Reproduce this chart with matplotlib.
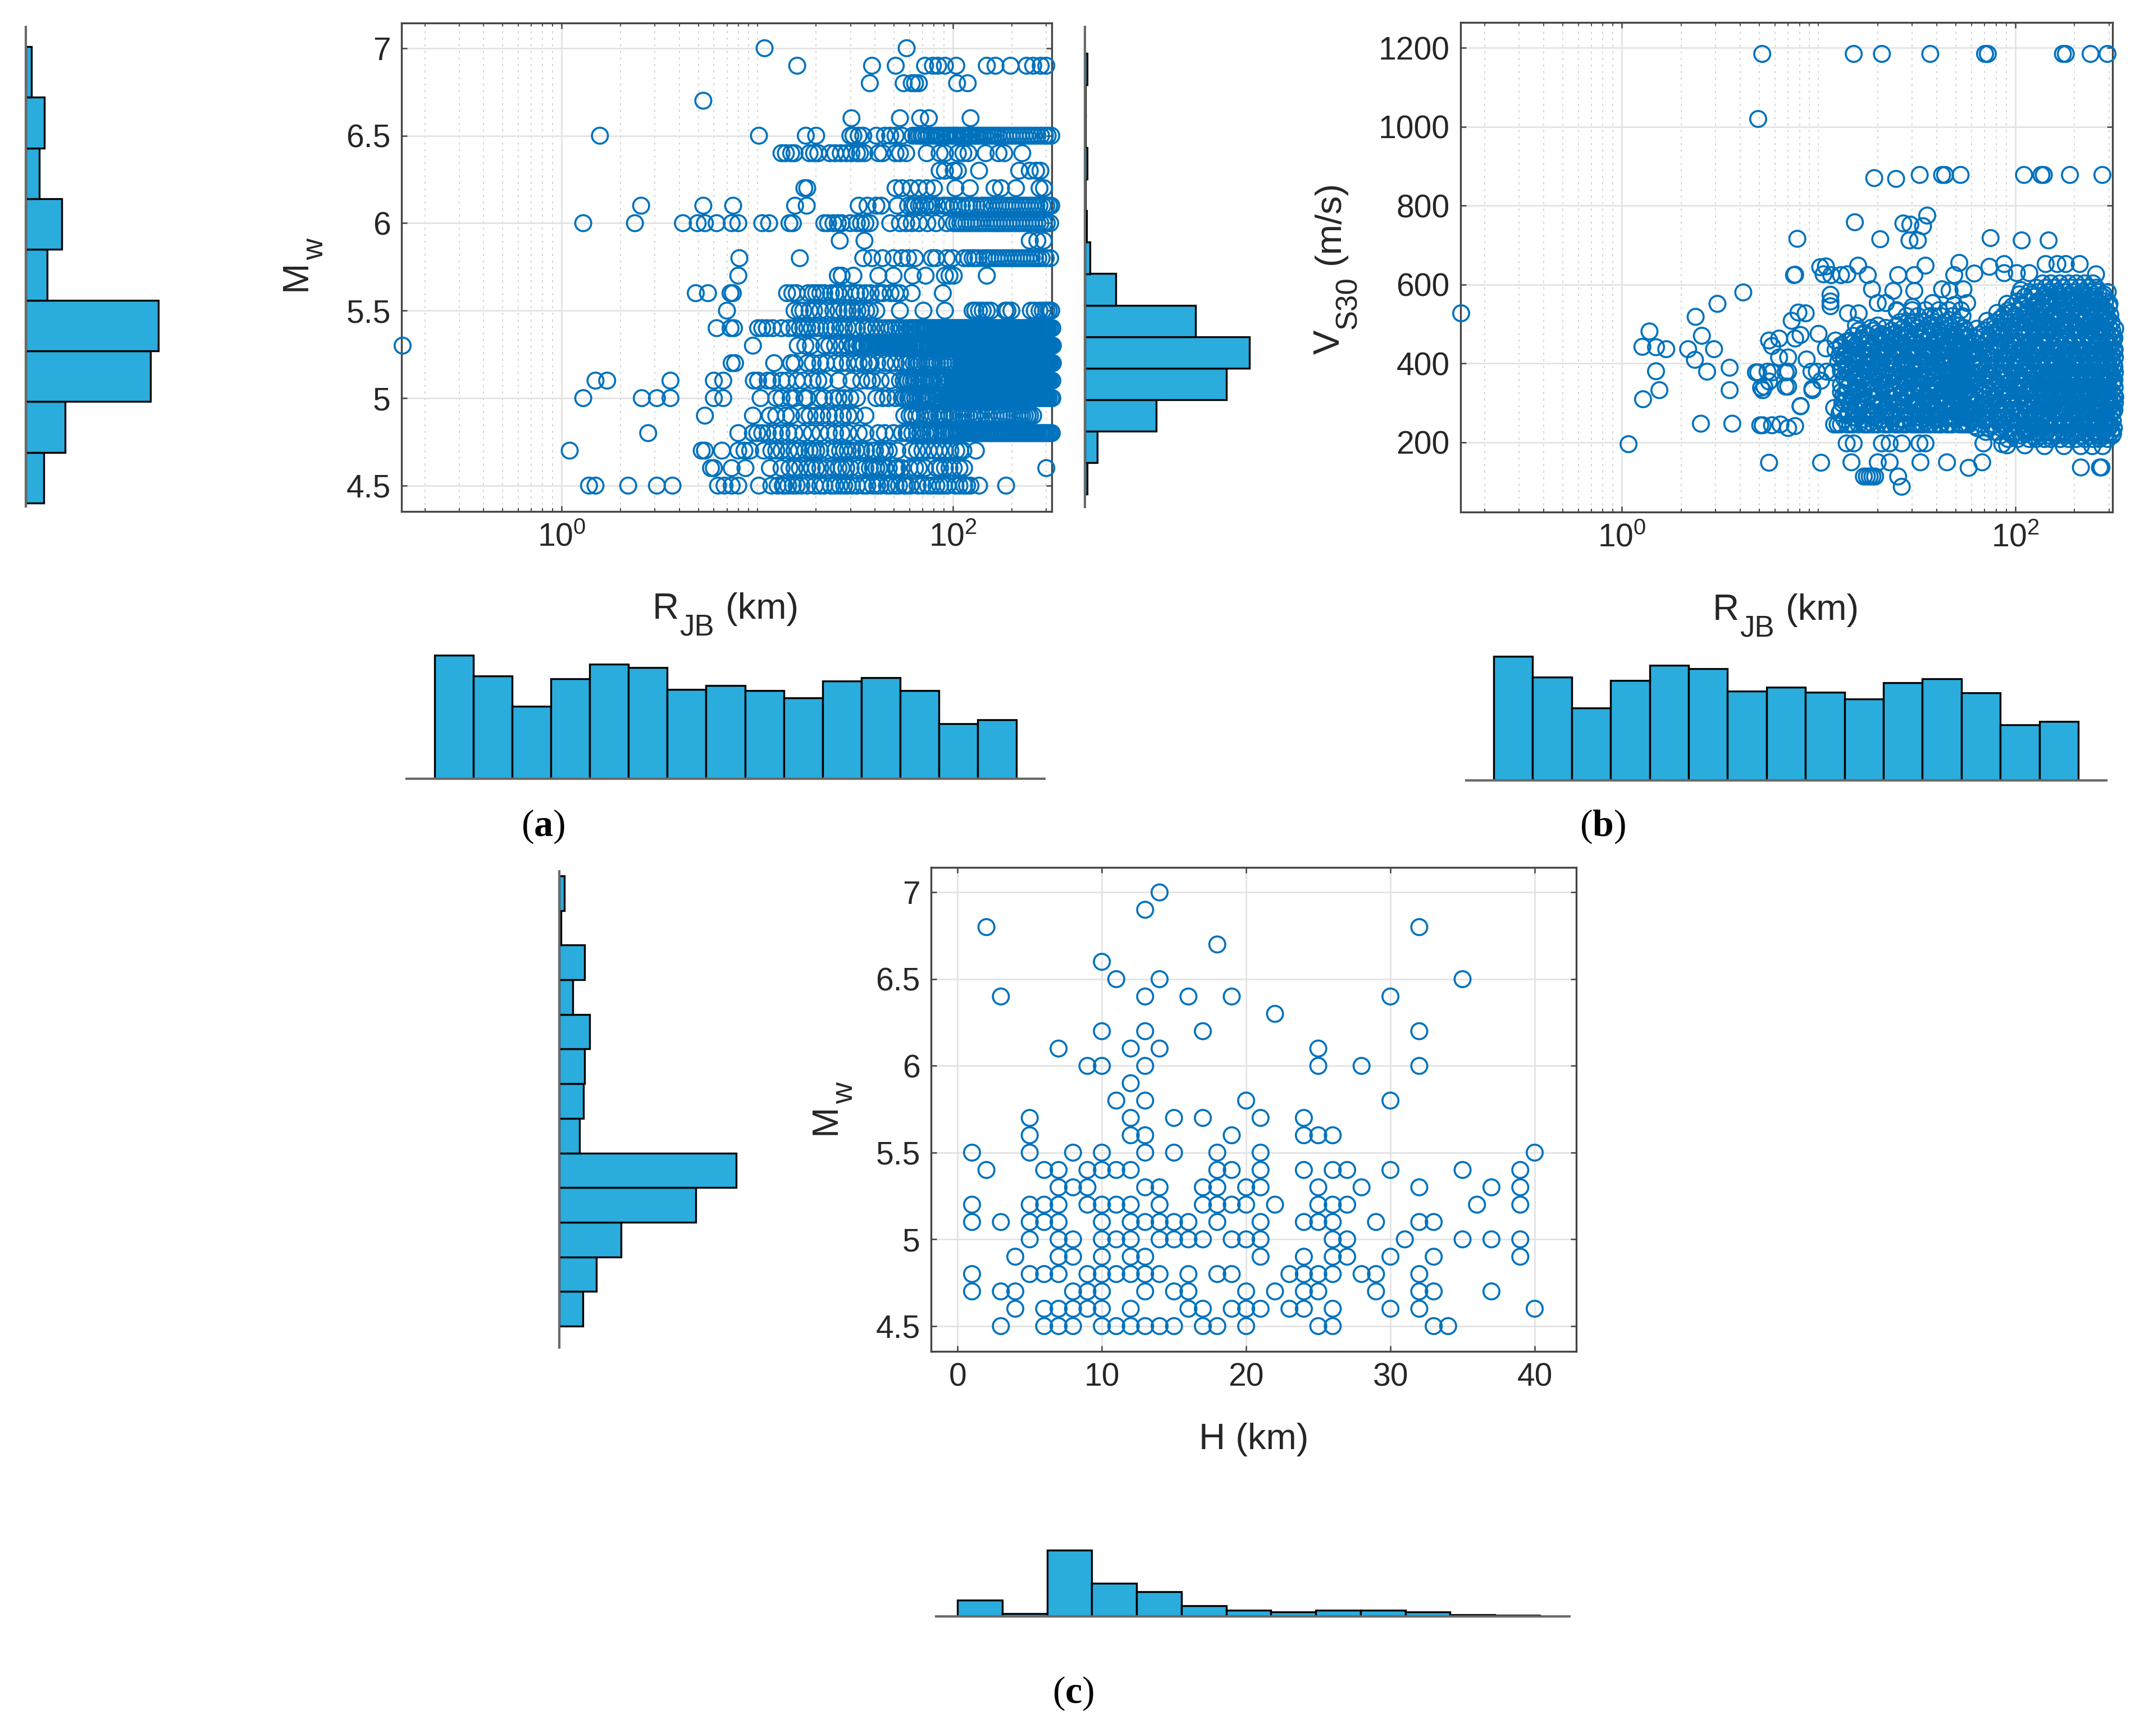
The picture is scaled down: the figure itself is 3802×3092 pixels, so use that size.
#!/usr/bin/env python
"""Scatter plots of the ground motion dataset with their marginal histograms."""
import numpy as np
import matplotlib
matplotlib.use("Agg")
import matplotlib.pyplot as plt
from matplotlib import ticker

W, H = 3802, 3092
BLUE = "#0072BD"
BAR = "#2AACDD"
DARK = "#262626"
SPINE = "#444444"

plt.rcParams["font.family"] = ["Liberation Sans", "DejaVu Sans"]
plt.rcParams["mathtext.fontset"] = "custom"
plt.rcParams["mathtext.rm"] = "Liberation Sans"
plt.rcParams["mathtext.it"] = "Liberation Sans"
plt.rcParams["mathtext.bf"] = "Liberation Serif:bold"

# Panel (a): RJB (km) values read at each Mw level
R_M45 = [1.38, 1.49, 2.19, 3.07, 3.69, 6.3, 6.8, 7.4, 8, 10.2, 11.8, 12.7, 13.5, 13.7, 14.4, 15.2, 15.9, 16.8, 18, 19.7,
         21, 22, 23.8, 25, 26.4, 27.8, 32.3, 34.9, 39, 42.7, 46, 50.9, 56.4, 60.7, 74.4, 82.3, 103, 114, 123, 136, 187,
         29, 30.5, 36.5, 41, 48, 53, 58, 66, 70, 78, 86, 90, 94, 108, 118]
R_M46 = [5.8, 6, 7.4, 8.7, 11.6, 13.3, 14.6, 15.5, 18, 20, 21, 24.5, 27, 28.5, 35.7, 37.6, 40.6, 44.9, 50.9, 54.9, 67,
         82.3, 91, 101, 114, 300,
         16.5, 19, 22.5, 26, 30, 33, 39, 42, 47, 52, 60, 64, 72, 86, 96, 108]
R_M47 = [1.1, 5.2, 5.4, 6.6, 8, 8.6, 9.2, 10.8, 11.8, 13.3, 15.5, 16.3, 17.6, 19.2, 21, 25, 27.8, 30.6, 34, 38.6, 42.7,
         44.9, 65.5, 69.8, 80.3, 91, 109, 113, 131,
         12.5, 14.5, 18.5, 20, 23, 26.5, 29, 32, 36, 40, 47, 52, 61, 75, 85, 97, 104]
R_M48 = [2.77, 8, 9.5, 10, 10.6, 11.3, 12.3, 13.3, 14.4, 15.5, 17.2, 19, 21, 23.2, 25, 27, 29.2, 33, 35.7, 41.6, 44.9,
         49.7, 54.9, 59, 65.5, 72.5, 80.3, 87.7, 101, 106, 111, 116, 121, 127, 133, 139, 146, 153, 160, 168, 176, 184,
         193, 202, 212, 222, 233, 244, 255, 267, 280, 293, 306, 320,
         109, 114, 119, 124, 130, 136, 142, 149, 156, 164, 172, 180, 188, 197, 207, 217, 228, 239, 250, 261, 273, 286,
         299, 313,
         58, 62, 68, 70, 75, 77, 83, 90, 92, 95, 98, 104]
R_M49 = [5.4, 9.5, 11.6, 12.5, 14, 14.9, 17.4, 18.5, 20, 21.5, 23.2, 25, 27.4, 29.2, 31.5, 35.7, 56.4, 68, 76.3, 82.3,
         88.8, 95.8, 106, 117, 126, 147, 159, 185, 199, 226, 241, 257,
         60, 62, 65, 72, 74, 79, 85, 91, 99, 102, 110, 113, 121, 130, 135, 140, 152, 165, 172, 178, 192, 206, 213, 220,
         233, 248]
R_M50 = [1.29, 2.57, 3.07, 3.6, 6, 6.7, 10.4, 12.5, 13.3, 14.8, 15.5, 17.4, 18, 20.7, 22, 24.5, 26, 27.8, 29.9, 32.3,
         40.6, 43.7, 46.6, 50.9, 54.9, 59, 64, 69, 74.4, 82.3, 91, 94, 98, 101, 105, 109, 113, 118, 122, 127, 132, 137,
         142, 147, 153, 159, 165, 171, 178, 185, 192, 199, 207, 215, 223, 232, 241, 250, 260, 270, 280, 291, 302, 318,
         93, 96, 100, 103, 107, 111, 115, 120, 125, 130, 135, 140, 145, 150, 156, 162, 168, 175, 182, 189, 196, 204,
         212, 220, 228, 237, 246, 255, 265, 275, 286, 297, 309, 322,
         55, 57, 60, 62, 66, 68, 71, 73, 76, 79, 84, 87]
R_M51 = [1.49, 1.71, 3.6, 6, 6.7, 9.6, 10.1, 11.3, 11.9, 13.3, 14.2, 15.9, 17.2, 19.2, 20.5, 22, 26, 30.3, 34, 36.7,
         38.6, 42.7, 47.8, 53.6, 59, 69, 78, 85.5, 96, 99, 103, 107, 111, 115, 120, 124, 129, 134, 139, 145, 150, 156,
         162, 168, 175, 181, 188, 195, 203, 211, 219, 227, 236, 245, 254, 264, 274, 285, 296, 307, 322,
         101, 105, 109, 113, 117, 122, 127, 132, 137, 142, 148, 154, 160, 166, 172, 178, 185, 192, 199, 207, 215, 223,
         232, 241, 250, 259, 269, 279, 290, 302, 314,
         56, 58, 61, 63, 65, 67, 71, 72, 75, 77, 80, 83, 88, 91]
R_M52 = [7.4, 7.7, 12.2, 14.9, 15.5, 18, 19.2, 21, 25, 31.5, 35, 38, 45, 55, 67, 76, 93, 107, 110, 114, 118, 122, 127,
         132, 137, 142, 148, 153, 159, 165, 172, 178, 185, 192, 199, 207, 215, 223, 232, 241, 250, 260, 270, 280, 291,
         302, 314, 324,
         112, 116, 120, 125, 130, 135, 140, 145, 151, 156, 162, 169, 175, 182, 189, 196, 203, 211, 219, 228, 236, 245,
         255, 265, 275, 286, 297, 308, 320,
         58, 60, 63, 65, 69, 72, 74, 78, 80, 83, 86, 89, 96, 99, 103,
         22.5, 27, 29, 33, 37, 41, 48, 51]
R_M53 = [0.154, 9.5, 16.1, 17.6, 18.8, 22, 23.3, 25, 27, 28.8, 30.5, 32, 33.5, 35, 36.5, 38, 40, 42, 44, 46, 48, 50, 52,
         54, 56, 58, 60, 63, 65, 68, 71, 74, 77, 80, 83, 86, 89, 93, 96, 100, 104, 108, 112, 116, 121, 125, 130, 135,
         141, 146, 152, 158, 164, 171, 177, 184, 191, 198, 206, 214, 222, 231, 240, 249, 259, 269, 279, 290, 301, 313,
         324,
         31, 34, 37, 39, 41, 43, 45, 47, 49, 51, 53, 55, 57, 59, 62, 64, 67, 69, 72, 75, 78, 82, 85, 88, 91, 95, 98,
         102, 106, 110, 114, 118, 123, 128, 133, 138, 144, 149, 155, 161, 168, 174, 181, 188, 195, 202, 210, 218, 227,
         235, 244, 254, 264, 274, 285, 296, 307, 319]
R_M54 = [6.2, 7.3, 7.6, 10.1, 10.6, 11.2, 12, 13.3, 15.5, 17.2, 19, 21, 23.8, 27.8, 32.3, 34.9, 42.7, 47.2, 51, 54.9,
         57.7, 60, 62.3, 65, 67, 70, 72.5, 75, 78, 81, 84.4, 88, 91, 94, 98, 102, 106, 110, 114, 118, 123, 128, 133,
         138, 144, 149, 155, 161, 167, 173, 180, 187, 194, 202, 210, 218, 226, 235, 244, 253, 263, 273, 284, 295, 306,
         322,
         61, 64, 68, 71, 74, 77, 80, 83, 86, 90, 93, 96, 100, 104, 108, 112, 116, 121, 126, 131, 136, 141, 147, 152,
         158, 164, 170, 177, 184, 191, 198, 206, 214, 222, 231, 240, 249, 258, 268, 279, 290, 301, 314,
         14.5, 16.5, 18, 20, 22.5, 25, 26.5, 29, 31, 36.5, 38.5, 40.5, 45, 49, 53]
R_M55 = [7, 15.5, 17.2, 19.5, 21, 24.5, 27.8, 30.6, 34, 37.6, 40.6, 53.6, 70.7, 91, 126, 136, 149, 185, 199, 250, 277,
         300, 318,
         16.5, 18.5, 22.5, 26, 29, 32.5, 36, 130, 142, 156, 190, 262, 288, 309]
R_M56 = [4.85, 5.6, 7.3, 7.5, 14.2, 15.1, 15.9, 19.2, 20, 22, 23.8, 27.8, 33.5, 35.7, 41.6, 50.9, 53.6, 61.6, 88.8,
         18.2, 21, 25, 26, 30, 32, 38, 44, 48]
R_M57 = [8, 25.8, 27, 31, 41.6, 49.7, 62.3, 72.5, 91, 96, 101, 149]
R_M58 = [8.1, 16.5, 34.8, 38.6, 43.7, 49.7, 54.9, 59, 64, 78, 82, 93, 99.5, 114, 126, 144, 155, 167, 180, 194, 210,
         226, 244, 263, 284, 314,
         120, 130, 135, 150, 161, 173, 187, 202, 218, 235, 253, 273, 298]
R_M59 = [26.4, 35.3, 247, 270, 291]
R_M60 = [1.29, 2.37, 4.17, 4.96, 5.4, 6.2, 7.4, 8, 10.6, 11.5, 14.6, 15.2, 22, 23, 24.5, 25.8, 27, 29.9, 32.3, 33.9,
         35.7, 37.6, 47.8, 53.6, 57.7, 61.6, 67, 74, 82, 93, 101, 109, 117, 126, 136, 147, 159, 171, 185, 199, 215, 232,
         250, 270, 291, 314,
         105, 113, 122, 131, 141, 153, 165, 178, 192, 207, 223, 241, 260, 280, 302]
R_M61 = [2.55, 5.3, 7.53, 15.6, 17.9, 33, 36.6, 40.6, 43, 52, 59, 64, 69, 78, 89, 96, 106, 117, 126, 140, 151, 163,
         176, 190, 204, 221, 238, 257, 277, 300, 318,
         62, 67, 72, 75, 83, 92, 101, 111, 121, 132, 145, 157, 170, 183, 197, 212, 229, 247, 267, 288, 310]
R_M62 = [17.4, 18, 50.9, 54.9, 60.7, 67, 73.5, 80, 103, 122, 163, 176, 210, 277, 292]
R_M63 = [85.5, 91, 101, 106, 136, 218, 247, 266, 280]
R_M64 = [13.3, 14, 14.9, 15.5, 18.5, 19.5, 20.5, 23.5, 25, 26.7, 28.5, 30.3, 32.3, 33.5, 35.3, 41.6, 43.7, 50.9, 53.6,
         57.7, 73.5, 85.5, 91, 106, 113, 120, 147, 171, 183, 226]
R_M65 = [1.57, 10.2, 17.7, 20, 29.9, 31, 33, 34.8, 40.6, 44.9, 47.8, 50.9, 54.9, 62.3, 67, 70.7, 75.3, 81.3, 85.5, 91,
         95.8, 102, 106, 113, 120, 126, 133, 142, 151, 161, 171, 185, 199, 215, 232, 250, 270, 295, 318,
         65, 69, 73, 78, 83, 88, 93, 99, 104, 110, 116, 123, 130, 137, 146, 156, 166, 178, 192, 207, 223, 241, 260, 282,
         305]
R_M66 = [30.3, 53.6, 68, 75.3, 123]
R_M67 = [5.3]
R_M68 = [37.6, 56, 61.6, 64, 67, 105, 119]
R_M69 = [16, 38.6, 51, 72, 79, 84, 91, 104, 149, 165, 197, 238, 257, 281, 300]
R_M70 = [10.9, 58]
MW_LEVELS = [4.5, 4.6, 4.7, 4.8, 4.9, 5.0, 5.1, 5.2, 5.3, 5.4, 5.5, 5.6, 5.7, 5.8, 5.9, 6.0, 6.1, 6.2, 6.3, 6.4, 6.5,
             6.6, 6.7, 6.8, 6.9, 7.0]
R_AT_MW = [R_M45, R_M46, R_M47, R_M48, R_M49, R_M50, R_M51, R_M52, R_M53, R_M54, R_M55, R_M56, R_M57, R_M58, R_M59,
           R_M60, R_M61, R_M62, R_M63, R_M64, R_M65, R_M66, R_M67, R_M68, R_M69, R_M70]

# Panel (b): scattered points, RJB (km) and VS30 (m/s)
R_SPARSE = [0.152, 1.08, 1.38, 1.27, 1.49, 1.68, 1.49, 1.55, 1.28, 2.17, 2.37, 3.06, 2.55, 2.94, 2.35, 2.71, 3.53, 4.14,
            3.53, 2.52, 3.64, 4.93, 5.1, 5.05, 5.2, 5.8, 6.4, 5.6, 10.3, 5.8, 5.6, 6.8, 6.8, 7.6, 7, 7.8, 9.3, 8.1, 7.5,
            5.17, 15.1, 21, 37, 70.3, 72.6, 181, 175, 242, 295, 4.93,
            19.2, 24.8, 32.7, 42.5, 44, 52.8, 111, 136, 140, 190, 278,
            15.3, 27, 29.3, 35.7, 34, 20.6, 29, 32, 75, 108, 148,
            14.7, 20, 23, 33, 45, 58, 68, 216, 270, 275, 17, 17.6, 18.2, 18.8, 19.4, 25.4, 26.5,
            13.9, 15.1, 21, 23, 26.5, 32.6, 35, 69, 86, 91, 112, 141, 177, 216, 247, 279,
            7.6, 10.2, 10.9, 10.6, 11.6, 13, 14, 15.9, 17.8, 18.7, 24, 25.4, 30.7, 35, 30.7, 42.5, 46.4, 54.6, 107, 52,
            49, 62, 74, 88, 88, 102, 118, 143, 164, 181, 213, 258, 296,
            11.5, 11.5, 11.5, 8.6, 7.9, 7.3, 14.1, 16, 20, 22, 25, 30, 38, 39, 49, 57,
            5.6, 6.3, 7.6, 8.1, 5.8, 6.3, 7, 8.7, 10, 10.9, 4.8, 5.5, 7, 5.3, 5.2, 7, 9.3, 8.1, 12, 9.2, 9.8, 11, 11.8,
            10.3, 12.2, 12.2, 13.4]
V_SPARSE = [527, 195, 481, 442, 441, 436, 380, 332, 309, 436, 518, 551, 470, 436, 409, 379, 389, 580,
            332, 247, 247, 377, 338, 243, 243, 243, 245, 148, 148, 377, 354, 377, 341, 241, 236, 716, 336, 291, 624,
            1185, 1185, 1185, 1185, 1185, 1185, 1185, 1185, 1185, 1185, 1020,
            870, 868, 878, 878, 878, 878, 878, 878, 878, 878, 878,
            758, 755, 752, 775, 748, 715, 712, 712, 718, 712, 712,
            149, 149, 149, 149, 149, 135, 149, 136, 136, 136, 113, 113, 113, 113, 113, 113, 87,
            197, 197, 197, 197, 197, 197, 197, 197, 195, 192, 192, 190, 190, 190, 190, 190,
            625, 644, 646, 626, 624, 624, 626, 648, 624, 588, 584, 624, 624, 648, 584, 588, 584, 588, 586, 655,
            624, 628, 645, 652, 629, 629, 629, 652, 652, 652, 652, 626, 581,
            574, 557, 545, 527, 529, 508, 527, 527, 553, 553, 533, 543, 553, 519, 548, 553,
            458, 463, 463, 472, 444, 415, 415, 410, 475, 438, 377, 379, 379, 341, 332, 341, 332, 292, 287, 379, 379, 379,
            377, 356, 458, 434, 320]

# the line of stations near 245 m/s
V_LINE = 245
R_LINE = [12, 12.5, 13, 14, 14.5, 15, 16, 17, 17.5, 18, 19, 20, 21.5, 22, 23, 24.5, 25, 26, 27, 28, 30, 31, 32, 33, 34,
          36, 37, 39, 41, 42, 45, 46, 48, 52, 54, 56]

# middle of the cloud, one list of RJB per VS30 row
V_MID = [258, 263, 268, 274, 281, 287, 292, 298, 304, 310, 316, 322, 327, 333, 338, 345, 351, 357, 363, 369, 374, 380,
         386, 392, 398, 404, 410, 415, 421, 427, 433, 440, 446, 452, 458, 464, 470, 477, 483, 496]
R_MID = [[13.5, 17, 21, 27, 34, 41, 50],
         [15, 19, 24, 31, 37, 46, 54],
         [14, 16, 19, 24, 30, 38, 47, 55],
         [12.8, 17.5, 22, 26, 33, 42, 50],
         [13, 15.5, 18, 22, 36, 44, 52],
         [16, 20, 25, 31, 39, 47, 56],
         [14.5, 19, 23, 29, 34, 41, 48, 56],
         [13.2, 17, 21, 27, 32, 38, 45, 53],
         [13.5, 16.5, 21, 26, 31, 37, 44, 53],
         [14.8, 19.5, 24, 29, 35, 42, 51],
         [15, 18, 20, 25, 28, 35, 40, 49],
         [13.8, 16.5, 22.5, 27, 33, 38, 46, 54],
         [13, 17, 22, 27, 33, 39, 46, 55],
         [15.5, 19, 24, 30, 36, 43, 50],
         [14, 16, 19, 24, 30, 36, 43, 51],
         [13, 17.5, 21, 26, 32, 39, 47, 56],
         [15.5, 18.5, 23, 28, 32, 38, 47, 54],
         [14, 16.5, 20, 25, 30, 35, 41, 49],
         [13.5, 17, 20.5, 26, 31, 35, 42, 50],
         [15, 18.5, 22.5, 28, 33, 39, 46, 55],
         [14.5, 16, 21.5, 25, 29, 37, 45, 52],
         [13, 17.5, 20, 24, 31, 36, 41, 49],
         [13, 15, 18.5, 22, 27.5, 33, 41, 48, 56],
         [14.2, 16.8, 20.5, 25, 30, 38, 44, 53],
         [14, 17.5, 20, 24, 30, 36, 43, 51],
         [12.6, 15.8, 19, 22.5, 27, 33, 39, 47],
         [13.5, 16, 19, 23, 28, 34, 40, 47, 55],
         [14.8, 18, 21, 25, 30, 36, 42, 50],
         [12.8, 15.5, 18, 22, 26, 32, 38, 45, 53],
         [13.7, 16.5, 20, 24, 28.5, 34, 41, 48],
         [14, 17, 20.5, 25, 29, 35, 42, 49],
         [12.9, 15.2, 18.5, 22, 26.5, 31, 37, 44, 52],
         [13, 15.5, 19, 23, 27.5, 33, 39, 46, 54],
         [15, 18, 21.5, 26, 31, 38, 45, 53],
         [14.5, 17.5, 21, 24.5, 30, 36, 44, 51],
         [16.5, 19.5, 23, 28, 34, 40, 47, 55],
         [15, 18, 22, 26, 31, 37, 43, 50],
         [17, 20, 25, 29, 35, 42, 52],
         [16, 19, 23.5, 28, 34, 41, 48, 56],
         [15.5, 20, 25, 30, 37, 44, 52]]

# second pass through the middle of the cloud
V_MID2 = [261, 277, 295, 313, 330, 348, 366, 383, 401, 418, 437, 455, 474, 490, 505, 520, 535]
R_MID2 = [[15.7, 20, 23.5, 29, 35, 40, 48, 57],
          [14.2, 18.5, 23, 28, 32, 39, 45, 53],
          [16.2, 20.5, 25, 30.5, 36, 43, 52],
          [14.7, 19, 23.5, 29, 34.5, 41, 48, 57],
          [15.8, 20, 24.5, 31, 37, 44, 51],
          [14.4, 18, 22, 27.5, 34, 40, 46, 53],
          [16, 19.5, 24, 29.5, 36, 43, 51],
          [13.8, 17, 21, 26.5, 31, 38, 46, 52],
          [15.2, 18.5, 22, 27, 32.5, 39, 45, 54],
          [13.4, 17, 20, 24.5, 29.5, 35, 43, 50],
          [15.8, 18.5, 22.5, 27, 31.5, 38, 46, 53],
          [13.8, 16, 20, 23.5, 28.5, 34, 40, 49],
          [17, 21, 24, 29, 33, 39, 46, 54],
          [18.5, 22, 27, 32, 38, 46, 55],
          [26, 30, 34, 39, 44, 50],
          [28, 32, 37, 42, 48, 54],
          [25, 30, 35, 41, 46, 53]]

# dense core of the cloud
V_CORE = [208, 217, 226, 236, 245, 254, 263, 273, 282, 291, 300, 310, 320, 329, 339, 348, 358, 367, 377, 387, 396, 406,
          415, 425, 435, 444, 454, 464, 473, 483, 493, 503, 513, 523, 534, 545, 557, 569, 581, 592, 603]
R_CORE = [[92, 103, 118, 128, 141, 152, 170, 187, 205, 226, 249, 268, 296],
          [84, 97, 108, 122, 135, 148, 163, 181, 198, 218, 241, 262, 287, 312],
          [71, 80, 92, 106, 117, 129, 143, 158, 176, 192, 213, 234, 258, 282, 308],
          [64, 74, 85, 96, 110, 124, 138, 152, 169, 186, 205, 227, 249, 274, 299, 318],
          [58, 68, 78, 90, 101, 114, 127, 141, 156, 173, 191, 211, 233, 256, 281, 305],
          [60, 70, 81, 93, 105, 119, 133, 147, 163, 180, 198, 219, 241, 265, 290, 314],
          [55, 65, 75, 87, 99, 111, 124, 138, 153, 170, 188, 207, 229, 252, 277, 302],
          [57, 67, 77, 89, 102, 115, 129, 143, 159, 176, 194, 215, 237, 260, 286, 310],
          [53, 63, 73, 84, 96, 108, 121, 135, 150, 166, 184, 203, 224, 247, 272, 298, 320],
          [56, 66, 76, 88, 100, 113, 126, 140, 155, 172, 190, 210, 232, 255, 280, 306],
          [54, 64, 74, 85, 97, 110, 123, 137, 152, 168, 186, 206, 227, 250, 275, 300, 322],
          [59, 69, 79, 91, 104, 117, 131, 145, 161, 178, 196, 217, 239, 263, 288, 312],
          [52, 62, 72, 83, 95, 107, 120, 134, 149, 165, 183, 202, 223, 246, 271, 296, 319],
          [57, 67, 78, 90, 103, 116, 130, 144, 160, 177, 195, 216, 238, 261, 287, 311],
          [54, 65, 75, 86, 98, 109, 122, 136, 151, 167, 185, 204, 225, 248, 273, 299, 321],
          [60, 70, 80, 92, 105, 118, 132, 146, 162, 179, 197, 218, 240, 264, 289, 313],
          [53, 63, 73, 84, 96, 108, 121, 135, 150, 166, 184, 203, 224, 247, 272, 297, 320],
          [58, 68, 77, 89, 101, 114, 128, 142, 157, 174, 192, 212, 234, 257, 283, 308],
          [55, 64, 74, 86, 98, 110, 123, 137, 152, 169, 187, 206, 228, 251, 276, 301, 322],
          [57, 66, 76, 88, 100, 112, 126, 140, 155, 171, 189, 209, 231, 254, 279, 304],
          [53, 62, 72, 83, 94, 107, 120, 133, 148, 164, 182, 201, 222, 245, 270, 295, 318],
          [56, 67, 78, 90, 102, 115, 129, 143, 158, 175, 193, 213, 235, 258, 284, 309],
          [54, 64, 75, 87, 99, 111, 125, 139, 154, 170, 188, 208, 230, 253, 278, 303, 322],
          [59, 69, 79, 91, 103, 116, 130, 144, 159, 176, 194, 214, 236, 259, 285, 310],
          [55, 65, 74, 85, 97, 109, 122, 136, 151, 167, 185, 205, 226, 249, 274, 300, 321],
          [58, 68, 78, 89, 101, 113, 127, 141, 156, 173, 191, 211, 233, 256, 282, 307],
          [61, 71, 82, 94, 106, 119, 133, 148, 164, 181, 199, 220, 242, 266, 291, 315],
          [63, 73, 84, 96, 108, 122, 136, 151, 168, 185, 204, 225, 248, 273, 298, 320],
          [66, 76, 87, 99, 112, 125, 140, 155, 172, 190, 209, 231, 254, 279, 305],
          [70, 81, 92, 105, 118, 132, 147, 163, 180, 198, 219, 241, 265, 290, 312],
          [74, 85, 97, 110, 123, 137, 152, 169, 186, 205, 227, 250, 275, 300],
          [79, 90, 102, 115, 129, 144, 160, 177, 195, 216, 238, 261, 287, 310],
          [84, 96, 108, 121, 135, 150, 166, 183, 203, 224, 246, 271, 297],
          [88, 100, 112, 126, 141, 156, 172, 191, 211, 232, 255, 281, 305],
          [92, 105, 118, 132, 146, 162, 179, 197, 218, 240, 264, 290],
          [97, 110, 123, 137, 152, 169, 186, 205, 227, 250, 275, 300],
          [103, 116, 129, 144, 160, 177, 195, 216, 238, 262, 287],
          [112, 125, 139, 155, 171, 189, 209, 231, 254, 279],
          [118, 132, 146, 162, 179, 198, 219, 241, 265],
          [128, 143, 158, 175, 193, 213, 235, 258],
          [138, 152, 169, 187, 205, 226, 249]]

# more stations through the core, read between the rows above
V_CORE2 = [222, 241, 259, 277, 296, 315, 334, 353, 372, 391, 410, 430, 449, 468, 488, 508, 528, 551, 575]
R_CORE2 = [[98, 113, 131, 155, 178, 202, 229, 255, 290, 315],
           [62, 76, 87, 104, 121, 133, 161, 194, 223, 261, 303],
           [50, 61, 71, 83, 94, 112, 136, 149, 175, 212, 244, 293],
           [51, 59, 72, 82, 106, 128, 146, 166, 201, 221, 268, 316],
           [48, 60, 69, 81, 95, 116, 139, 157, 182, 214, 254, 309],
           [52, 63, 79, 92, 109, 127, 151, 171, 199, 236, 276, 323],
           [49, 58, 70, 86, 101, 118, 142, 165, 187, 228, 265, 301],
           [53, 64, 77, 93, 107, 130, 149, 174, 208, 243, 284, 317],
           [47, 61, 73, 84, 103, 124, 147, 168, 196, 226, 258, 306],
           [51, 65, 80, 95, 115, 134, 154, 183, 215, 250, 294, 320],
           [48, 62, 72, 89, 105, 120, 145, 172, 203, 239, 272, 311],
           [52, 60, 75, 94, 111, 128, 158, 181, 212, 247, 283, 319],
           [50, 66, 83, 99, 117, 138, 163, 190, 221, 260, 298],
           [57, 69, 86, 106, 125, 143, 167, 202, 234, 269, 313],
           [64, 78, 95, 113, 131, 153, 178, 207, 242, 280, 323],
           [72, 88, 104, 119, 141, 164, 192, 224, 256, 292],
           [81, 94, 114, 134, 158, 180, 210, 243, 286],
           [91, 108, 127, 149, 170, 200, 229, 268, 302],
           [105, 122, 141, 166, 190, 222, 252, 283]]

# Panel (c): focal depth H (km) at each Mw level
H_M45 = [3, 6, 7, 8, 10, 11, 12, 13, 14, 15, 17, 18, 20, 25, 26, 33, 34]
H_M46 = [4, 6, 7, 8, 9, 10, 12, 16, 17, 19, 20, 21, 23, 24, 26, 30, 32, 40]
H_M47 = [1, 3, 4, 8, 9, 10, 13, 15, 16, 20, 22, 24, 25, 29, 32, 33, 37]
H_M48 = [1, 5, 6, 7, 9, 10, 11, 12, 13, 14, 16, 18, 19, 23, 24, 25, 26, 28, 29, 32]
H_M49 = [4, 7, 8, 10, 12, 13, 21, 24, 26, 27, 30, 33, 39]
H_M50 = [5, 7, 8, 10, 11, 12, 14, 15, 16, 17, 19, 20, 21, 26, 27, 31, 35, 37, 39]
H_M51 = [1, 3, 5, 6, 7, 10, 12, 13, 14, 15, 16, 18, 21, 24, 25, 26, 29, 32, 33]
H_M52 = [1, 5, 6, 7, 9, 10, 11, 12, 14, 17, 18, 19, 20, 22, 25, 26, 27, 36, 39]
H_M53 = [7, 8, 9, 13, 14, 17, 18, 20, 21, 25, 28, 32, 37, 39]
H_M54 = [2, 6, 7, 9, 10, 11, 12, 18, 19, 21, 24, 26, 27, 30, 35, 39]
H_M55 = [1, 5, 8, 10, 13, 15, 18, 21, 40]
H_M56 = [5, 12, 13, 19, 24, 25, 26]
H_M57 = [5, 12, 15, 17, 21, 24]
H_M58 = [11, 13, 20, 30]
H_M59 = [12]
H_M60 = [9, 10, 13, 25, 28, 32]
H_M61 = [7, 12, 14, 25]
H_M62 = [10, 13, 17, 32]
H_M63 = [22]
H_M64 = [3, 13, 16, 19, 30]
H_M65 = [11, 14, 35]
H_M66 = [10]
H_M67 = [18]
H_M68 = [2, 32]
H_M69 = [13]
H_M70 = [14]
H_AT_MW = [H_M45, H_M46, H_M47, H_M48, H_M49, H_M50, H_M51, H_M52, H_M53, H_M54, H_M55, H_M56, H_M57, H_M58, H_M59,
           H_M60, H_M61, H_M62, H_M63, H_M64, H_M65, H_M66, H_M67, H_M68, H_M69, H_M70]

# Marginal histograms, bin heights as read (arbitrary units, low bin first)
HIST_A_MW = [32, 70, 222, 236, 38, 64, 24, 33, 10]
HIST_A_R = [220, 183, 129, 178, 204, 198, 159, 166, 157, 144, 174, 180, 157, 98, 105]
HIST_B_VS = [4, 22, 127, 252, 293, 197, 55, 9, 3, 1, 4, 1, 1, 4]
HIST_B_R = [221, 184, 129, 178, 205, 199, 159, 166, 157, 145, 174, 181, 156, 99, 105]
HIST_C_MW = [42, 66, 110, 243, 315, 36, 43, 45, 54, 24, 45, 3, 9]
HIST_C_H = [29, 5, 118, 59, 44, 19, 11, 8, 11, 11, 8, 3, 2]

MW_TICKS = [4.5, 5, 5.5, 6, 6.5, 7]
MW_TICKLABELS = ["4.5", "5", "5.5", "6", "6.5", "7"]
VS_TICKS = [200, 400, 600, 800, 1000, 1200]
H_TICKS = [0, 10, 20, 30, 40]


def px_axes(left, top, right, bottom):
    return fig.add_axes([left / W, 1 - bottom / H, (right - left) / W, (bottom - top) / H])


def style_scatter(ax):
    ax.grid(True, which="major", color="#e3e3e3", lw=2.0)
    ax.set_axisbelow(True)
    for s in ax.spines.values():
        s.set_color(SPINE)
        s.set_linewidth(2.4)
    ax.tick_params(which="major", direction="in", top=True, right=True, length=7, width=1.8, color=SPINE,
                   labelsize=41, labelcolor=DARK, pad=14)
    ax.tick_params(which="minor", direction="in", top=True, right=True, length=4, width=1.4, color=SPINE)


def style_log(ax):
    ax.set_xscale("log")
    ax.xaxis.set_major_locator(ticker.FixedLocator([1, 100]))
    minors = [m * 10.0 ** k for k in (-1, 0, 1, 2) for m in range(1, 10)]
    minors = [m for m in minors if m not in (1, 100)]
    ax.xaxis.set_minor_locator(ticker.FixedLocator(minors))
    ax.xaxis.set_minor_formatter(ticker.NullFormatter())
    ax.grid(True, which="minor", axis="x", color="#d4d4d4", lw=1.4, linestyle=(0, (2, 4)))


def rings(ax, x, y):
    ax.scatter(x, y, s=420, facecolors="none", edgecolors=BLUE, linewidths=2.6, clip_on=False, zorder=3)


def hist_below(box, bars, counts):
    # box and bars in pixels, the line runs the whole box
    left, top, right, bottom = box
    ax = px_axes(left, top, right, bottom)
    ax.bar(np.arange(len(counts)) + 0.5, counts, width=1.0, color=BAR, edgecolor="black", linewidth=2.4)
    step = (bars[1] - bars[0]) / len(counts)
    ax.set_xlim((left - bars[0]) / step, (right - bars[0]) / step)
    ax.set_ylim(0, bottom - top)
    bare(ax, "bottom")


def hist_left(box, bars, counts):
    # bins run upward, low value at the bottom of the pixel span
    left, top, right, bottom = box
    ax = px_axes(left, top, right, bottom)
    ax.barh(np.arange(len(counts)) + 0.5, counts, height=1.0, color=BAR, edgecolor="black", linewidth=2.4)
    step = (bars[1] - bars[0]) / len(counts)
    ax.set_ylim((bars[1] - bottom) / step, (bars[1] - top) / step)
    ax.set_xlim(0, right - left)
    bare(ax, "left")


def bare(ax, keep):
    ax.patch.set_visible(False)
    for name, s in ax.spines.items():
        s.set_visible(name == keep)
    ax.spines[keep].set_color("#6a6a6a")
    ax.spines[keep].set_linewidth(3.0)
    ax.set_xticks([])
    ax.set_yticks([])


def sub_label(x, y, main, sub, tail="", vertical=False, gap=20):
    # x, y is the baseline start of the label in pixels, text pieces laid end to end
    renderer = fig.canvas.get_renderer()
    rot = 90 if vertical else 0
    pos = 0
    pieces = [(main, 47, 0, 1), (sub, 38, 30, gap)]
    if tail:
        pieces.append((tail, 47, 0, 0))
    for text, size, drop, step in pieces:
        if vertical:
            px, py = x + drop, y - pos
        else:
            px, py = x + pos, y + drop
        t = fig.text(px / W, 1 - py / H, text, ha="left", va="baseline", rotation=rot, rotation_mode="anchor",
                     fontsize=size, color=DARK)
        ext = t.get_window_extent(renderer)
        pos += (ext.height if vertical else ext.width) + step


def caption(x, y, letter):
    fig.text(x / W, 1 - y / H, "(" + r"$\mathbf{" + letter + "}$" + ")", ha="center", va="center", fontsize=49,
             color="black", family="Liberation Serif")


fig = plt.figure(figsize=(W / 100, H / 100), dpi=100)

# (a)
ax = px_axes(715, 41, 1873, 911)
style_scatter(ax)
style_log(ax)
xs = [r for rs in R_AT_MW for r in rs]
ys = [m for m, rs in zip(MW_LEVELS, R_AT_MW) for r in rs]
rings(ax, xs, ys)
ax.set_xlim(0.152, 320)
ax.set_ylim(4.352, 7.144)
ax.set_yticks(MW_TICKS)
ax.set_yticklabels(MW_TICKLABELS)
hist_left((46, 48, 400, 902), (83, 896), HIST_A_MW)
hist_below((724, 1147, 1860, 1387), (774, 1810), HIST_A_R)
sub_label(1162, 1102, "R", "JB", "(km)")
sub_label(545, 518, "M", "w", vertical=True)
caption(967, 1472, "a")

# (b)
ax = px_axes(2601, 40, 3762, 912)
style_scatter(ax)
style_log(ax)
xs = list(R_SPARSE) + list(R_LINE)
ys = list(V_SPARSE) + [V_LINE] * len(R_LINE)
for v, rs in zip(V_MID + V_MID2 + V_CORE + V_CORE2, R_MID + R_MID2 + R_CORE + R_CORE2):
    xs += rs
    ys += [v] * len(rs)
rings(ax, xs, ys)
ax.set_xlim(0.151, 313)
ax.set_ylim(22.8, 1264.8)
ax.set_yticks(VS_TICKS)
hist_left((1932, 48, 2300, 903), (95, 880), HIST_B_VS)
hist_below((2611, 1150, 3751, 1390), (2660, 3701), HIST_B_R)
sub_label(3050, 1104, "R", "JB", "(km)")
sub_label(2385, 631, "V", "S30", "(m/s)", vertical=True, gap=22)
caption(2854, 1472, "b")

# (c)
ax = px_axes(1658, 1545, 2807, 2407)
style_scatter(ax)
xs = [h for hs in H_AT_MW for h in hs]
ys = [m for m, hs in zip(MW_LEVELS, H_AT_MW) for h in hs]
rings(ax, xs, ys)
ax.set_xlim(-1.84, 42.88)
ax.set_ylim(4.354, 7.144)
ax.set_xticks(H_TICKS)
ax.set_yticks(MW_TICKS)
ax.set_yticklabels(MW_TICKLABELS)
hist_left((996, 1552, 1330, 2400), (1560, 2362), HIST_C_MW)
hist_below((1667, 2640, 2795, 2879), (1705, 2742), HIST_C_H)
fig.text(2233 / W, 1 - 2564 / H, "H (km)", ha="center", va="center", fontsize=47, color=DARK)
sub_label(1488, 2021, "M", "w", vertical=True)
caption(1911, 3016, "c")

fig.savefig("out.png", dpi=100)
